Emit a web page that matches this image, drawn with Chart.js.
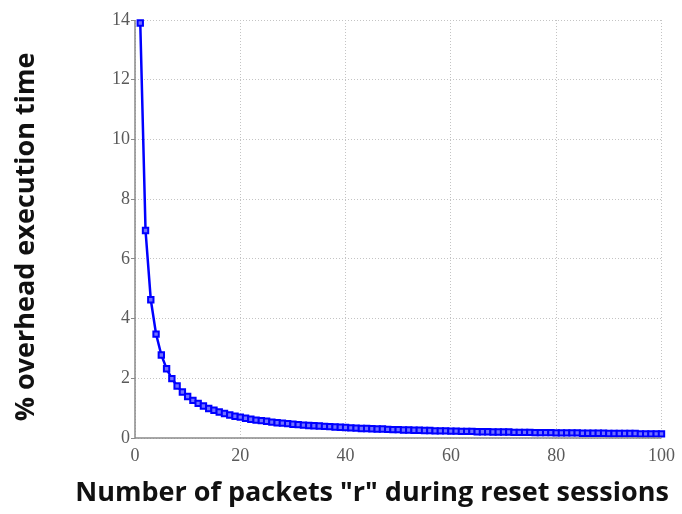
<!DOCTYPE html>
<html>
<head>
<meta charset="utf-8">
<script src="https://cdn.jsdelivr.net/npm/chart.js@4/dist/chart.umd.min.js"></script>
<style>
html,body{margin:0;padding:0;background:#fff;}
#wrap{width:682px;height:514px;position:relative;}
</style>
</head>
<body>
<div id="wrap"><canvas id="c" width="682" height="514"></canvas></div>
<script>
const packetsR = [1,2,3,4,5,6,7,8,9,10,11,12,13,14,15,16,17,18,19,20,
21,22,23,24,25,26,27,28,29,30,31,32,33,34,35,36,37,38,39,40,
41,42,43,44,45,46,47,48,49,50,51,52,53,54,55,56,57,58,59,60,
61,62,63,64,65,66,67,68,69,70,71,72,73,74,75,76,77,78,79,80,
81,82,83,84,85,86,87,88,89,90,91,92,93,94,95,96,97,98,99,100];
const overheadPct = [13.9,6.95,4.63,3.48,2.78,2.32,1.99,1.74,1.54,1.39,
1.26,1.16,1.07,0.99,0.93,0.87,0.82,0.77,0.73,0.70,
0.66,0.63,0.60,0.58,0.56,0.53,0.51,0.50,0.48,0.46,
0.45,0.43,0.42,0.41,0.40,0.39,0.38,0.37,0.36,0.35,
0.34,0.33,0.32,0.32,0.31,0.30,0.30,0.29,0.28,0.28,
0.27,0.27,0.26,0.26,0.25,0.25,0.24,0.24,0.24,0.23,
0.23,0.22,0.22,0.22,0.21,0.21,0.21,0.20,0.20,0.20,
0.20,0.19,0.19,0.19,0.19,0.18,0.18,0.18,0.18,0.17,
0.17,0.17,0.17,0.17,0.16,0.16,0.16,0.16,0.16,0.15,
0.15,0.15,0.15,0.15,0.15,0.14,0.14,0.14,0.14,0.14];
const xTicks = [0,20,40,60,80,100];
const yTicks = [0,2,4,6,8,10,12,14];
const xTitle = 'Number of packets "r" during reset sessions';
const yTitle = '% overhead execution time';

const points = packetsR.map((r, i) => ({x: r, y: overheadPct[i]}));
const tickFont = {family: '"Liberation Serif", "DejaVu Serif", serif', size: 18};
const titleFontCss = 'bold 27px "Open Sans", "DejaVu Sans", sans-serif';

const axesAndTitles = {
  id: 'axesAndTitles',
  afterDraw(chart) {
    const {ctx, chartArea: a} = chart;
    ctx.save();
    ctx.strokeStyle = '#8a8a8a';
    ctx.lineWidth = 1.5;
    ctx.beginPath();
    ctx.moveTo(a.left, a.top);
    ctx.lineTo(a.left, a.bottom);
    ctx.lineTo(a.right, a.bottom);
    ctx.stroke();

    ctx.fillStyle = '#111';
    ctx.font = titleFontCss;
    ctx.textAlign = 'center';
    ctx.textBaseline = 'middle';
    ctx.fillText(xTitle, 372, 493);
    ctx.translate(26, 237);
    ctx.rotate(-Math.PI / 2);
    ctx.fillText(yTitle, 0, 0);
    ctx.restore();
  }
};

new Chart(document.getElementById('c'), {
  type: 'line',
  data: {
    datasets: [{
      data: points,
      borderColor: '#0000ff',
      borderWidth: 2.5,
      pointStyle: 'rect',
      pointRadius: 3.8,
      pointBorderWidth: 2,
      pointBorderColor: '#0000ff',
      pointBackgroundColor: '#7070ff',
      tension: 0,
      clip: false
    }]
  },
  options: {
    responsive: false,
    animation: false,
    devicePixelRatio: 1,
    layout: {padding: {top: 20, right: 20, left: 0, bottom: 0}},
    plugins: {legend: {display: false}, tooltip: {enabled: false}},
    scales: {
      x: {
        type: 'linear',
        min: 0, max: 100,
        afterBuildTicks: s => { s.ticks = xTicks.map(v => ({value: v})); },
        afterFit: s => { s.height = 76; },
        border: {display: false, dash: [1, 2]},
        grid: {color: '#c4c4c4', lineWidth: 1, tickLength: 0, drawTicks: false},
        ticks: {font: tickFont, color: '#5a5a5a', padding: 7, maxRotation: 0},
        title: {display: false}
      },
      y: {
        type: 'linear',
        min: 0, max: 14,
        afterBuildTicks: s => { s.ticks = yTicks.map(v => ({value: v})); },
        afterFit: s => { s.width = 135; },
        border: {display: false, dash: [1, 2]},
        grid: {color: '#c4c4c4', lineWidth: 1, tickLength: 4, tickColor: '#8a8a8a', tickBorderDash: []},
        ticks: {font: tickFont, color: '#5a5a5a', padding: 1},
        title: {display: false}
      }
    }
  },
  plugins: [axesAndTitles]
});
</script>
</body>
</html>
